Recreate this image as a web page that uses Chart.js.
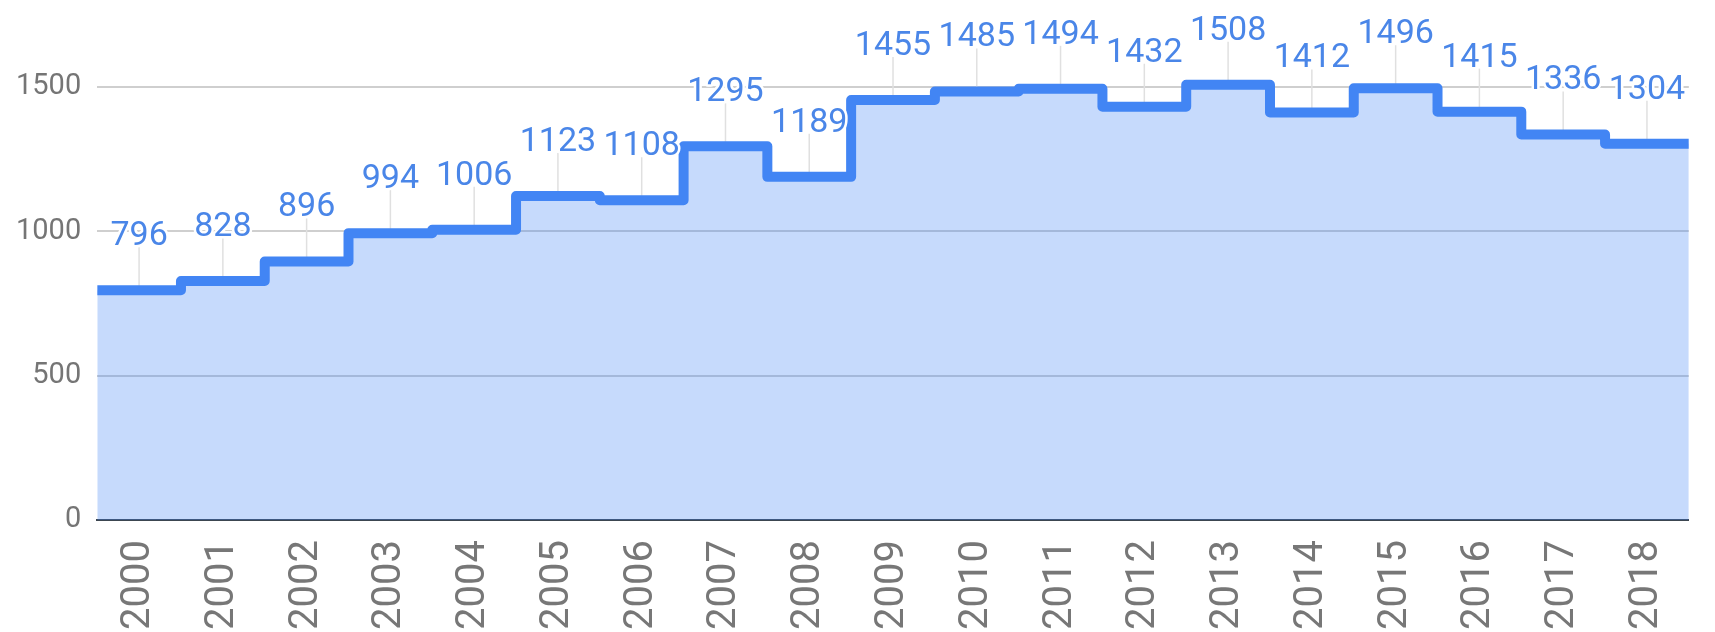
<!DOCTYPE html>
<html>
<head>
<meta charset="utf-8">
<script src="https://cdn.jsdelivr.net/npm/chart.js"></script>
<style>
  html, body { margin: 0; padding: 0; background: #fff; }
  #wrap { width: 1715px; height: 632px; }
</style>
</head>
<body>
<div id="wrap"><canvas id="chart"></canvas></div>
<script>
const years = ['2000', '2001', '2002', '2003', '2004', '2005', '2006', '2007', '2008', '2009',
               '2010', '2011', '2012', '2013', '2014', '2015', '2016', '2017', '2018'];
const values = [796, 828, 896, 994, 1006, 1123, 1108, 1295, 1189, 1455,
                1485, 1494, 1432, 1508, 1412, 1496, 1415, 1336, 1304];
const yTicks = [0, 500, 1000, 1500];

// each year holds its value across its band; the last value closes the right edge
const stepPoints = values.map((v, i) => ({ x: i, y: v }));
stepPoints.push({ x: values.length, y: values[values.length - 1] });

// value labels with a thin stem, like the original annotations
const annotations = {
  id: 'annotations',
  beforeDatasetsDraw(chart) {
    const { ctx, scales: { x, y } } = chart;
    ctx.save();
    ctx.strokeStyle = '#e0e0e0';
    ctx.lineWidth = 1.5;
    values.forEach((v, i) => {
      const px = x.getPixelForValue(i + 0.5);
      const py = y.getPixelForValue(v);
      ctx.beginPath();
      ctx.moveTo(px, py - 43);
      ctx.lineTo(px, py);
      ctx.stroke();
    });
    ctx.restore();
  },
  afterDatasetsDraw(chart) {
    const { ctx, scales: { x, y } } = chart;
    ctx.save();
    ctx.font = '34px Roboto';
    ctx.textAlign = 'center';
    ctx.textBaseline = 'alphabetic';
    ctx.lineJoin = 'round';
    values.forEach((v, i) => {
      const px = x.getPixelForValue(i + 0.5);
      const py = y.getPixelForValue(v) - 45;
      ctx.strokeStyle = '#fff';
      ctx.lineWidth = 5;
      ctx.strokeText(String(v), px, py);
      ctx.fillStyle = '#4a86e8';
      ctx.fillText(String(v), px, py);
    });
    ctx.restore();
  }
};

new Chart(document.getElementById('chart'), {
  type: 'line',
  data: {
    datasets: [{
      data: stepPoints,
      stepped: 'before',
      borderColor: '#4285f4',
      borderWidth: 10,
      borderJoinStyle: 'round',
      backgroundColor: 'rgba(66,133,244,0.3)',
      fill: 'origin',
      pointRadius: 0,
      pointHoverRadius: 0
    }]
  },
  options: {
    responsive: true,
    maintainAspectRatio: false,
    animation: false,
    layout: { padding: { left: 0, right: 2, top: 0, bottom: -18 } },
    plugins: {
      legend: { display: false },
      tooltip: { enabled: false }
    },
    scales: {
      x: {
        type: 'linear',
        min: 0,
        max: years.length,
        afterBuildTicks: (scale) => {
          scale.ticks = years.map((_, i) => ({ value: i + 0.5 }));
        },
        grid: { display: false, drawTicks: false },
        border: { display: true, color: '#3c4650', width: 2 },
        ticks: {
          autoSkip: false,
          minRotation: 90,
          maxRotation: 90,
          padding: 20,
          color: '#777',
          font: { family: 'Roboto', size: 40 },
          callback: (value, index) => years[index]
        }
      },
      y: {
        min: 0,
        max: 1686,
        afterBuildTicks: (scale) => {
          scale.ticks = yTicks.map(v => ({ value: v }));
        },
        grid: { color: '#cfcfcf', lineWidth: 2, drawTicks: false },
        border: { display: false },
        ticks: {
          padding: 16,
          color: '#757575',
          font: { family: 'Roboto', size: 29 },
          callback: (value) => String(value)
        }
      }
    }
  },
  plugins: [annotations]
});
</script>
</body>
</html>
